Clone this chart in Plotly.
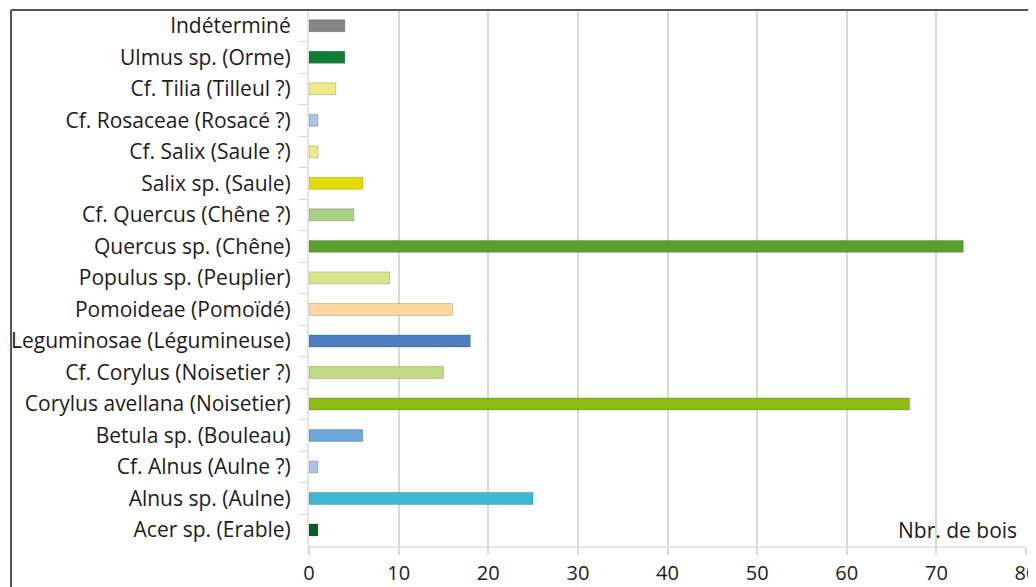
import plotly.graph_objects as go

categories = [
    "Indéterminé", "Ulmus sp. (Orme)", "Cf. Tilia (Tilleul ?)", "Cf. Rosaceae (Rosacé ?)",
    "Cf. Salix (Saule ?)", "Salix sp. (Saule)", "Cf. Quercus (Chêne ?)", "Quercus sp. (Chêne)",
    "Populus sp. (Peuplier)", "Pomoideae (Pomoïdé)", "Leguminosae (Légumineuse)",
    "Cf. Corylus (Noisetier ?)", "Corylus avellana (Noisetier)", "Betula sp. (Bouleau)",
    "Cf. Alnus (Aulne ?)", "Alnus sp. (Aulne)", "Acer sp. (Erable)",
]
counts = [4, 4, 3, 1, 1, 6, 5, 73, 9, 16, 18, 15, 67, 6, 1, 25, 1]
bar_colors = [
    "#858585", "#0f7d33", "#eeea86", "#a9c4e6", "#eeea86", "#e3dc00", "#a9d080", "#5aa12c",
    "#d9e48c", "#fdd9a2", "#4b7fc0", "#c2db82", "#8dbd15", "#6ca6da", "#a9c4e6", "#3bb9d0",
    "#0b5c28",
]
x_ticks = [0, 10, 20, 30, 40, 50, 60, 70, 80]
axis_title = "Nbr. de bois"

font_family = "Open Sans"
text_color = "#1e1b1c"

fig = go.Figure()
fig.add_trace(go.Bar(
    x=counts,
    y=categories,
    orientation="h",
    width=0.38,
    marker=dict(color=bar_colors, line=dict(color="rgba(0,0,0,0.18)", width=1)),
    showlegend=False,
    hoverinfo="x+y",
))

# the page body has an 8px default margin, so the figure is offset by 8px
fig.update_layout(
    width=1028,
    height=579,
    margin=dict(l=301, r=10, t=2, b=41, autoexpand=False),
    paper_bgcolor="white",
    plot_bgcolor="white",
    font=dict(family=font_family, color=text_color, size=21),
    xaxis=dict(
        range=[0, 80],
        tickvals=x_ticks,
        ticktext=[str(v) for v in x_ticks],
        showgrid=True,
        gridcolor="#d9d9d9",
        gridwidth=2,
        zeroline=False,
        ticks="outside",
        ticklen=7,
        tickcolor="#d9d9d9",
        tickwidth=2,
        showline=True,
        linecolor="#e4e4e4",
        linewidth=2,
        tickfont=dict(size=20, family=font_family, color=text_color),
        ticklabelstandoff=1,
        ticklabeloverflow="allow",
        automargin=False,
        fixedrange=True,
    ),
    yaxis=dict(
        type="category",
        autorange="reversed",
        tickson="boundaries",
        ticks="outside",
        ticklen=8,
        tickcolor="#d6d6d6",
        tickwidth=1,
        showgrid=False,
        showline=True,
        linecolor="#e4e4e4",
        linewidth=2,
        tickfont=dict(size=21, family=font_family, color=text_color),
        ticklabelstandoff=12,
        automargin=False,
        fixedrange=True,
    ),
    annotations=[dict(
        text=axis_title,
        xref="paper", yref="y",
        x=0.99, y=categories[-1],
        xanchor="right", yanchor="middle",
        showarrow=False,
        font=dict(size=21, family=font_family, color=text_color),
    )],
    shapes=[
        dict(type="line", xref="paper", yref="paper",
             x0=-0.4156, x1=1.1, y0=1, y1=1,
             line=dict(color="#555555", width=2)),
        dict(type="line", xref="paper", yref="paper",
             x0=-0.4156, x1=-0.4156, y0=1, y1=-0.1,
             line=dict(color="#555555", width=2)),
    ],
)

fig.write_html("out.html")
